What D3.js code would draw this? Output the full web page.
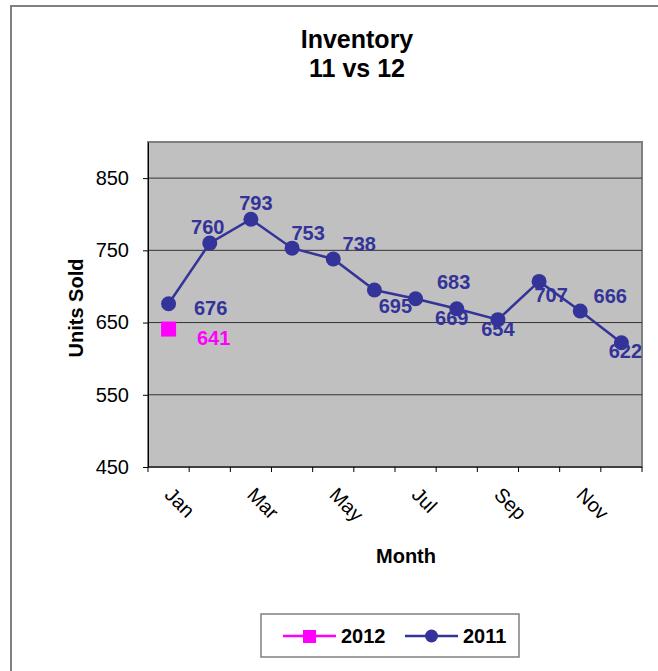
<!DOCTYPE html>
<html>
<head>
<meta charset="utf-8">
<script src="https://cdn.jsdelivr.net/npm/d3@7"></script>
<style>
  html, body { margin: 0; padding: 0; background: #fff; }
  svg text { font-family: Arial, "Liberation Sans", sans-serif; }
</style>
</head>
<body>
<svg id="chart" width="658" height="671"></svg>
<script>
// dati
const months = ["Jan", "Feb", "Mar", "Apr", "May", "Jun", "Jul", "Aug", "Sep", "Oct", "Nov", "Dec"];
const sales2011 = [676, 760, 793, 753, 738, 695, 683, 669, 654, 707, 666, 622];
const sales2012 = [641];
const yTicks = [450, 550, 650, 750, 850];

// spostamento delle etichette rispetto al punto (trascinate a mano nell'originale)
const labelShift2011 = [[42, 4], [-2, -16], [5, -16], [16, -15], [26, -15], [21, 16],
                        [38, -17], [-5, 9], [0, 9], [12, 13], [30, -15], [4, 8]];
const labelShift2012 = [[45, 9]];

const blue = "#333399", pink = "#ff00ff";

const svg = d3.select("#chart");

// bordo esterno (solo lati sinistro e superiore visibili)
svg.append("rect")
  .attr("x", 11).attr("y", 6)
  .attr("width", 700).attr("height", 700)
  .attr("fill", "none")
  .attr("stroke", "#808080")
  .attr("stroke-width", 2);

const plotLeft = 148, plotRight = 642, plotTop = 142, plotBottom = 467;

const xScale = d3.scaleBand().domain(months).range([plotLeft, plotRight]).padding(0);
const yScale = d3.scaleLinear().domain([450, 900]).range([plotBottom, plotTop]);

// area del grafico
svg.append("rect")
  .attr("x", plotLeft).attr("y", plotTop)
  .attr("width", plotRight - plotLeft).attr("height", plotBottom - plotTop)
  .attr("fill", "#c0c0c0")
  .attr("stroke", "#808080")
  .attr("stroke-width", 2);

// griglia
svg.append("g")
  .selectAll("line")
  .data(yTicks.slice(1))
  .enter()
  .append("line")
  .attr("x1", plotLeft).attr("x2", plotRight)
  .attr("y1", d => yScale(d)).attr("y2", d => yScale(d))
  .attr("stroke", "#333")
  .attr("stroke-width", 1);

// asse y
const yAxis = svg.append("g")
  .attr("transform", "translate(" + plotLeft + ",0)")
  .call(d3.axisLeft(yScale).tickValues(yTicks).tickSize(5).tickPadding(14).tickSizeOuter(0));
yAxis.select(".domain").attr("stroke", "#000");
yAxis.selectAll("text").style("font-size", "20px").attr("fill", "#000");

// asse x: tacche ai bordi delle categorie
const xAxis = svg.append("g")
  .attr("transform", "translate(0," + plotBottom + ")");
xAxis.append("line")
  .attr("x1", plotLeft).attr("x2", plotRight)
  .attr("stroke", "#000");
xAxis.selectAll("line.tick")
  .data(months.concat(["end"]))
  .enter()
  .append("line")
  .attr("class", "tick")
  .attr("x1", (d, i) => plotLeft + i * xScale.bandwidth())
  .attr("x2", (d, i) => plotLeft + i * xScale.bandwidth())
  .attr("y1", 0).attr("y2", 5)
  .attr("stroke", "#000");

// etichette dei mesi ruotate, una sì e una no
svg.append("g")
  .selectAll("text")
  .data(months.filter((d, i) => i % 2 == 0))
  .enter()
  .append("text")
  .attr("transform", d => "translate(" + (xScale(d) + xScale.bandwidth() / 2 - 5) + ",496) rotate(45)")
  .style("font-size", "20px")
  .attr("fill", "#000")
  .text(d => d);

// titolo
svg.append("text")
  .attr("x", 357).attr("y", 48)
  .attr("text-anchor", "middle")
  .style("font-size", "25px").style("font-weight", "bold")
  .text("Inventory");
svg.append("text")
  .attr("x", 357).attr("y", 77)
  .attr("text-anchor", "middle")
  .style("font-size", "25px").style("font-weight", "bold")
  .text("11 vs 12");

// titoli degli assi
svg.append("text")
  .attr("transform", "translate(83,308) rotate(-90)")
  .attr("text-anchor", "middle")
  .style("font-size", "20px").style("font-weight", "bold")
  .text("Units Sold");
svg.append("text")
  .attr("x", 406).attr("y", 563)
  .attr("text-anchor", "middle")
  .style("font-size", "20px").style("font-weight", "bold")
  .text("Month");

const cx = (d, i) => xScale(months[i]) + xScale.bandwidth() / 2;

// serie 2011
const line = d3.line()
  .x((d, i) => cx(d, i))
  .y(d => yScale(d))
  .curve(d3.curveLinear);

svg.append("path")
  .datum(sales2011)
  .attr("d", line)
  .style("fill", "none")
  .style("stroke", blue)
  .style("stroke-width", "2.5");

svg.append("g")
  .selectAll("circle")
  .data(sales2011)
  .enter()
  .append("circle")
  .attr("cx", cx)
  .attr("cy", d => yScale(d))
  .attr("r", 7.5)
  .style("fill", blue);

// serie 2012
svg.append("g")
  .selectAll("rect")
  .data(sales2012)
  .enter()
  .append("rect")
  .attr("x", (d, i) => cx(d, i) - 7.5)
  .attr("y", d => yScale(d) - 7.5)
  .attr("width", 15).attr("height", 15)
  .style("fill", pink);

// etichette dei valori
svg.append("g")
  .selectAll("text")
  .data(sales2011)
  .enter()
  .append("text")
  .attr("x", (d, i) => cx(d, i) + labelShift2011[i][0])
  .attr("y", (d, i) => yScale(d) + labelShift2011[i][1])
  .attr("dy", "0.36em")
  .attr("text-anchor", "middle")
  .style("font-size", "20px").style("font-weight", "bold")
  .attr("fill", blue)
  .text(d => d);

svg.append("g")
  .selectAll("text")
  .data(sales2012)
  .enter()
  .append("text")
  .attr("x", (d, i) => cx(d, i) + labelShift2012[i][0])
  .attr("y", (d, i) => yScale(d) + labelShift2012[i][1])
  .attr("dy", "0.36em")
  .attr("text-anchor", "middle")
  .style("font-size", "20px").style("font-weight", "bold")
  .attr("fill", pink)
  .text(d => d);

// legenda
const legend = svg.append("g");
legend.append("rect")
  .attr("x", 261).attr("y", 614)
  .attr("width", 258).attr("height", 43)
  .attr("fill", "#fff")
  .attr("stroke", "#808080")
  .attr("stroke-width", 1.5);

legend.append("line")
  .attr("x1", 283).attr("x2", 336).attr("y1", 636).attr("y2", 636)
  .attr("stroke", pink).attr("stroke-width", 2.5);
legend.append("rect")
  .attr("x", 303).attr("y", 630).attr("width", 13).attr("height", 13)
  .attr("fill", pink);
legend.append("text")
  .attr("x", 341).attr("y", 643)
  .style("font-size", "20px").style("font-weight", "bold")
  .text("2012");

legend.append("line")
  .attr("x1", 405).attr("x2", 458).attr("y1", 636).attr("y2", 636)
  .attr("stroke", blue).attr("stroke-width", 2.5);
legend.append("circle")
  .attr("cx", 431.5).attr("cy", 636).attr("r", 6.5)
  .attr("fill", blue);
legend.append("text")
  .attr("x", 463).attr("y", 643)
  .style("font-size", "20px").style("font-weight", "bold")
  .text("2011");
</script>
</body>
</html>
